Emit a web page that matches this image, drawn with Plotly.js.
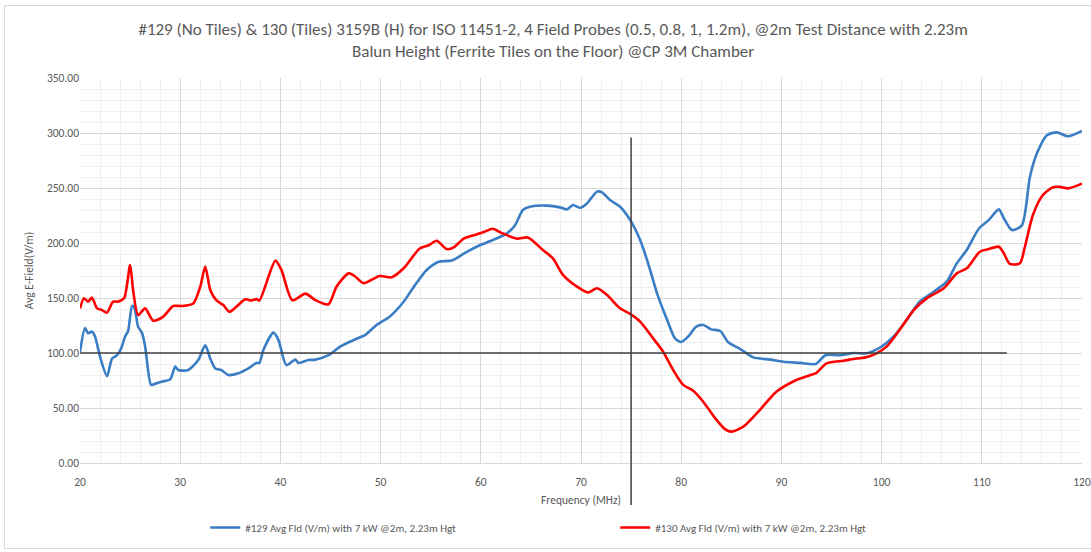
<!DOCTYPE html>
<html>
<head>
<meta charset="utf-8">
<script src="https://cdn.plot.ly/plotly-3.0.1.min.js"></script>
<style>
html,body{margin:0;padding:0;background:#fff;}
#wrap{position:relative;width:1091px;height:552px;}
#chart{width:1091px;height:552px;}
#frame{position:absolute;left:4px;top:5px;width:1095px;height:542px;border:1px solid #d9d9d9;pointer-events:none;}
</style>
</head>
<body>
<div id="wrap"><div id="chart"></div><div id="frame"></div></div>
<script>
// ---- data ----
const freq129 = [20,20.5,20.8,21.2,21.5,22,22.7,23.2,23.7,24.1,24.5,24.8,25.2,25.4,25.8,26.2,26.5,27.1,27.5,28.2,29,29.5,29.8,30.8,31.8,32.5,33,33.5,34.1,34.8,35.8,36.8,37.6,37.9,38.3,39.3,39.8,40.6,41.5,41.8,42.8,43.5,44.8,46,47.6,48.4,49.6,50.9,52.3,53.3,54.6,55.8,57.1,58.6,59.9,61.2,62.6,63.4,64.2,64.9,66.6,67.9,68.6,69.2,69.9,70.6,71.6,72.1,72.9,73.9,74.9,75.9,76.7,77.6,78.6,79.4,80,80.7,81.5,82.2,83,83.9,84.7,85.9,87.2,88.9,90.2,91.9,93.4,94.4,95.8,97.3,98.5,100,101.2,102.5,103.8,105.2,106.5,107.5,108.5,109.7,110.7,111.7,112.2,113,114,114.8,115.5,116.5,117.5,118.6,120];
const field129 = [101,122.7,118,119.4,115,96.6,79,95,98,104,115,120,142.7,142,124,118,106,71,72,74,76,87.6,84.5,84.5,93.6,107,95,86,84.5,80,81.5,86,91,91,102.7,118.5,112,89,94,91,93.6,94,98,106,113,116,125.5,133,146.6,160,175.5,183,184,192,198,202.7,208.8,216,230,233,234,232.4,230.6,234.5,232,236,246.7,246,239,233,221,202.7,181.5,154,130,113,110,115,124,125.5,121.5,120,109.7,103.6,96,94,92,91,90,98,98,100,99.7,105.8,115,130,146.7,155.7,164.8,181.5,193.6,213,221,230.6,222.5,211.8,216,260,281.5,298,300.6,297,302];
const freq130 = [20,20.4,20.8,21.2,21.7,22.2,22.7,23.3,23.8,24.4,25,25.3,25.8,26.5,27.3,28.3,29.3,30.1,31.3,32,32.5,33,33.6,34.3,34.9,35.6,36.5,37.1,37.6,37.9,39.5,40.1,41.2,42.5,43.5,44.8,45.6,46.8,47.4,48.3,49.9,51.1,52.3,53.9,54.8,55.6,56.6,57.3,58.3,59.3,60.3,61.2,62.1,63.6,64.7,66.2,67.2,68.2,69.6,70.7,71.6,72.6,73.9,74.9,75.9,77.2,78.2,79.2,80.2,81.2,82.2,83.4,84.4,85,86.2,87.9,89.5,91.5,92.9,93.5,94.5,96.2,97.5,98.3,99.5,100.5,101.8,103.2,104.5,106.2,107.5,108.5,109.8,110.7,111.7,112.2,112.8,113.8,114.3,115.1,116.1,117.1,117.8,118.6,120];
const field130 = [140.6,149.7,146.7,150.3,140.6,139,136.7,146.7,146.7,149.7,180,157,134.5,140.6,129.4,133,142.7,142.7,145,160.3,178.5,157.3,148,143.6,137.5,142,148.8,147.7,149,147.7,184,175.5,148,154,148,144.3,160.3,172.4,170,163.4,170,168.8,177,195,198,202,194.5,196,204,207,210,213,209,204,205,193.6,186,171,160.3,155,158.8,152.7,140.6,135.5,128.5,113.3,101.2,84.5,71,65.7,55.7,40.6,30.6,28.5,33,48.8,64.8,75.5,80,82,90.6,93,95,95.8,99.7,105.8,121,139,149.7,158.8,172.4,177,192,194.5,196.6,190.6,181,181.5,196.6,225.5,243.6,250.6,251,249.7,254];
const name129 = '#129 Avg Fld (V/m) with 7 kW @2m, 2.23m Hgt';
const name130 = '#130 Avg Fld (V/m) with 7 kW @2m, 2.23m Hgt';
const refLevel = 100;      // horizontal reference line value
const refLineEnd = 112.5;  // MHz where the horizontal line stops
const markerFreq = 75;     // vertical marker frequency
const markerTop = 296;     // V/m where vertical marker starts
const xTicks = [20,30,40,50,60,70,80,90,100,110,120];
const yTicks = [0,50,100,150,200,250,300,350];

const FONT = 'Carlito, Calibri, Lato, sans-serif';
const GREY = '#595959';

const traces = [
  {x: freq129, y: field129, name: name129, mode: 'lines', type: 'scatter',
   line: {color: '#3a7dc4', width: 2.6, shape: 'spline', smoothing: 0.7}},
  {x: freq130, y: field130, name: name130, mode: 'lines', type: 'scatter',
   line: {color: '#ff0000', width: 2.6, shape: 'spline', smoothing: 0.7}}
];

const layout = {
  width: 1091, height: 552,
  margin: {l: 80, r: 9, t: 78, b: 89, autoexpand: false},
  paper_bgcolor: '#fff', plot_bgcolor: '#fff',
  font: {family: FONT, color: GREY, size: 11},
  title: {
    text: '#129 (No Tiles) & 130 (Tiles) 3159B (H) for ISO 11451-2, 4 Field Probes (0.5, 0.8, 1, 1.2m), @2m Test Distance with 2.23m<br>Balun Height (Ferrite Tiles on the Floor) @CP 3M Chamber',
    font: {family: FONT, size: 17, color: GREY},
    x: 0.507, xanchor: 'center', y: 0.937, yanchor: 'top'
  },
  xaxis: {
    range: [20, 120], tickvals: xTicks, ticktext: xTicks.map(String),
    showgrid: true, gridcolor: '#d9d9d9', gridwidth: 1,
    minor: {dtick: 2, showgrid: true, gridcolor: '#efefef', gridwidth: 1},
    zeroline: false, showline: true, linecolor: '#d9d9d9', ticks: '',
    ticklabelstandoff: 8,
    tickfont: {size: 11.5, color: GREY},
    title: {text: 'Frequency (MHz)', font: {size: 11.5, color: GREY}, standoff: 8}
  },
  yaxis: {
    range: [0, 350], tickvals: yTicks, ticktext: yTicks.map(v => v.toFixed(2)),
    showgrid: true, gridcolor: '#d9d9d9', gridwidth: 1,
    minor: {dtick: 10, showgrid: true, gridcolor: '#efefef', gridwidth: 1},
    zeroline: false, showline: false, ticks: '',
    tickfont: {size: 11.5, color: GREY},
    title: {text: 'Avg E-Field(V/m)', font: {size: 11.5, color: GREY}, standoff: 10}
  },
  shapes: [
    {type: 'line', xref: 'x', yref: 'y', x0: 20, x1: refLineEnd, y0: refLevel, y1: refLevel,
     line: {color: '#404040', width: 1.5}},
    {type: 'line', xref: 'x', yref: 'paper', x0: markerFreq, x1: markerFreq, y0: -0.109, y1: markerTop / 350,
     line: {color: '#404040', width: 1.5}}
  ],
  showlegend: true,
  legend: {
    orientation: 'h', x: 0.125, xanchor: 'left', y: -0.13, yanchor: 'top',
    font: {size: 11, color: GREY}, entrywidth: 365, entrywidthmode: 'pixels',
    itemwidth: 30, traceorder: 'normal'
  }
};

Plotly.newPlot('chart', traces, layout, {displayModeBar: false, staticPlot: true});
</script>
</body>
</html>
